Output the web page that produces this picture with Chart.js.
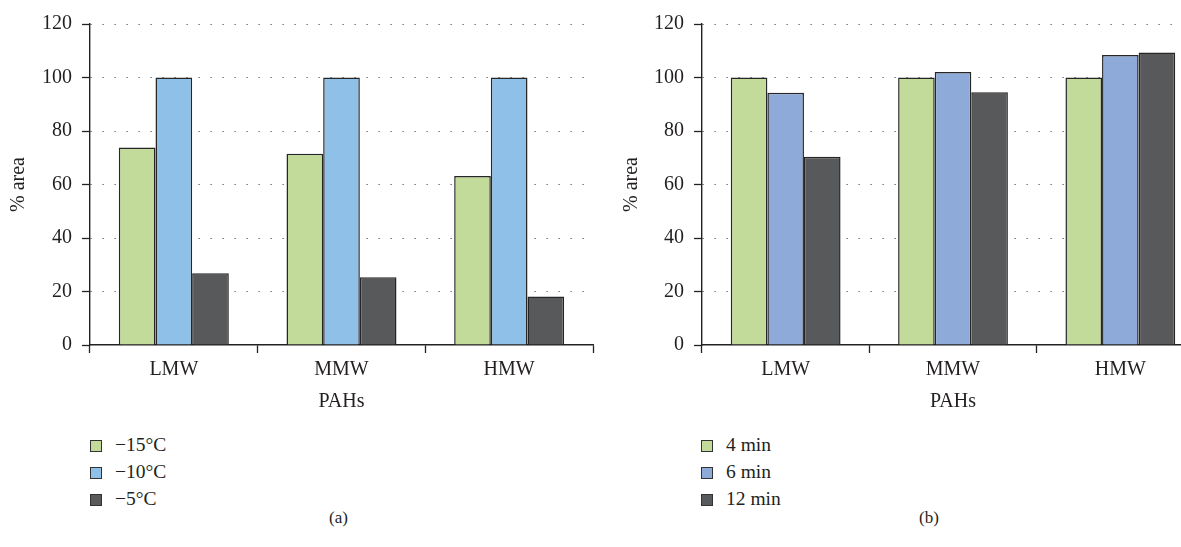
<!DOCTYPE html>
<html>
<head>
<meta charset="utf-8">
<script src="https://cdn.jsdelivr.net/npm/chart.js@4"></script>
<style>
  body { margin: 0; background: #fff; }
  #page { position: relative; width: 1181px; height: 547px; overflow: hidden; font-family: "Liberation Serif", serif; color: #231f20; }
  canvas { position: absolute; top: 0; }
  #chartA { left: 0; }
  #chartB { left: 600px; }
  .legend { position: absolute; top: 434px; font-size: 19.5px; }
  .legend div { height: 27px; line-height: 22px; white-space: nowrap; }
  .legend span.box { display: inline-block; width: 10px; height: 10px; border: 1px solid #333; margin-right: 13px; vertical-align: -1px; }
  #legendA { left: 90px; }
  #legendB { left: 701px; }
  .caption { position: absolute; top: 508px; font-size: 17px; }
</style>
</head>
<body>
<div id="page">
  <canvas id="chartA" width="600" height="420"></canvas>
  <canvas id="chartB" width="620" height="420"></canvas>
  <div class="legend" id="legendA"></div>
  <div class="legend" id="legendB"></div>
  <div class="caption" style="left:329px">(a)</div>
  <div class="caption" style="left:919px">(b)</div>
</div>
<script>
// categories and series
const categories = ['LMW', 'MMW', 'HMW'];

// (a) freezing temperature
const tempLabels = ['\u221215\u00b0C', '\u221210\u00b0C', '\u22125\u00b0C'];
const areaMinus15 = [73.8, 71.5, 63.2];
const areaMinus10 = [100, 100, 100];
const areaMinus5 = [26.8, 25.3, 18.1];

// (b) time
const timeLabels = ['4 min', '6 min', '12 min'];
const area4min = [100, 100, 100];
const area6min = [94.3, 102.1, 108.4];
const area12min = [70.4, 94.5, 109.3];

const yMin = 0, yMax = 120, yStep = 20;

const green = '#c2db9b';
const dark = '#58595b';
const textColor = '#231f20';
const serif = '"Liberation Serif", serif';

function buildChart(canvasId, legendId, labels, series, colors, axisWidth, padRight, titlePad) {
    const datasets = series.map((data, i) => ({
        label: labels[i],
        data: data,
        backgroundColor: colors[i],
        borderColor: '#262626',
        borderWidth: 1.5,
        barPercentage: 1,
        categoryPercentage: 0.656
    }));

    const chart = new Chart(document.getElementById(canvasId), {
        type: 'bar',
        data: { labels: categories, datasets: datasets },
        options: {
            responsive: false,
            animation: false,
            devicePixelRatio: 1,
            layout: { padding: { top: 24, right: padRight, bottom: 0, left: 0 } },
            plugins: { legend: { display: false }, tooltip: { enabled: false } },
            scales: {
                x: {
                    grid: { display: true, drawOnChartArea: false, offset: true, tickLength: 8, tickColor: '#222', tickWidth: 1.3 },
                    border: { color: '#222', width: 1.4 },
                    ticks: { color: textColor, font: { family: serif, size: 20 }, padding: 5, maxRotation: 0 },
                    title: { display: true, text: 'PAHs', color: textColor, font: { family: serif, size: 20 }, padding: { top: 0, bottom: 6 } },
                    afterFit: scale => { scale.height = 75; }
                },
                y: {
                    min: yMin,
                    max: yMax,
                    grid: {
                        // no dotted line over the x axis
                        color: c => (c.tick && c.tick.value === 0) ? 'rgba(0,0,0,0)' : '#777',
                        lineWidth: 1, tickLength: 8, tickColor: '#222', tickWidth: 1.3
                    },
                    border: { color: '#222', width: 1.4, dash: [1.5, 10.5] },
                    ticks: { stepSize: yStep, color: textColor, font: { family: serif, size: 20 }, padding: 10 },
                    title: { display: true, text: '% area', color: textColor, font: { family: serif, size: 20 }, padding: { top: titlePad, bottom: 0 } },
                    afterFit: scale => { scale.width = axisWidth; }
                }
            }
        }
    });

    // legend list, one row per series
    const box = document.getElementById(legendId);
    chart.data.datasets.forEach(ds => {
        const row = document.createElement('div');
        const sw = document.createElement('span');
        sw.className = 'box';
        sw.style.background = ds.backgroundColor;
        row.appendChild(sw);
        row.appendChild(document.createTextNode(ds.label));
        box.appendChild(row);
    });
    return chart;
}

buildChart('chartA', 'legendA', tempLabels, [areaMinus15, areaMinus10, areaMinus5],
    [green, '#8fc0e8', dark], 90, 7, 7);
buildChart('chartB', 'legendB', timeLabels, [area4min, area6min, area12min],
    [green, '#8eaad8', dark], 102, 16, 20);
</script>
</body>
</html>
